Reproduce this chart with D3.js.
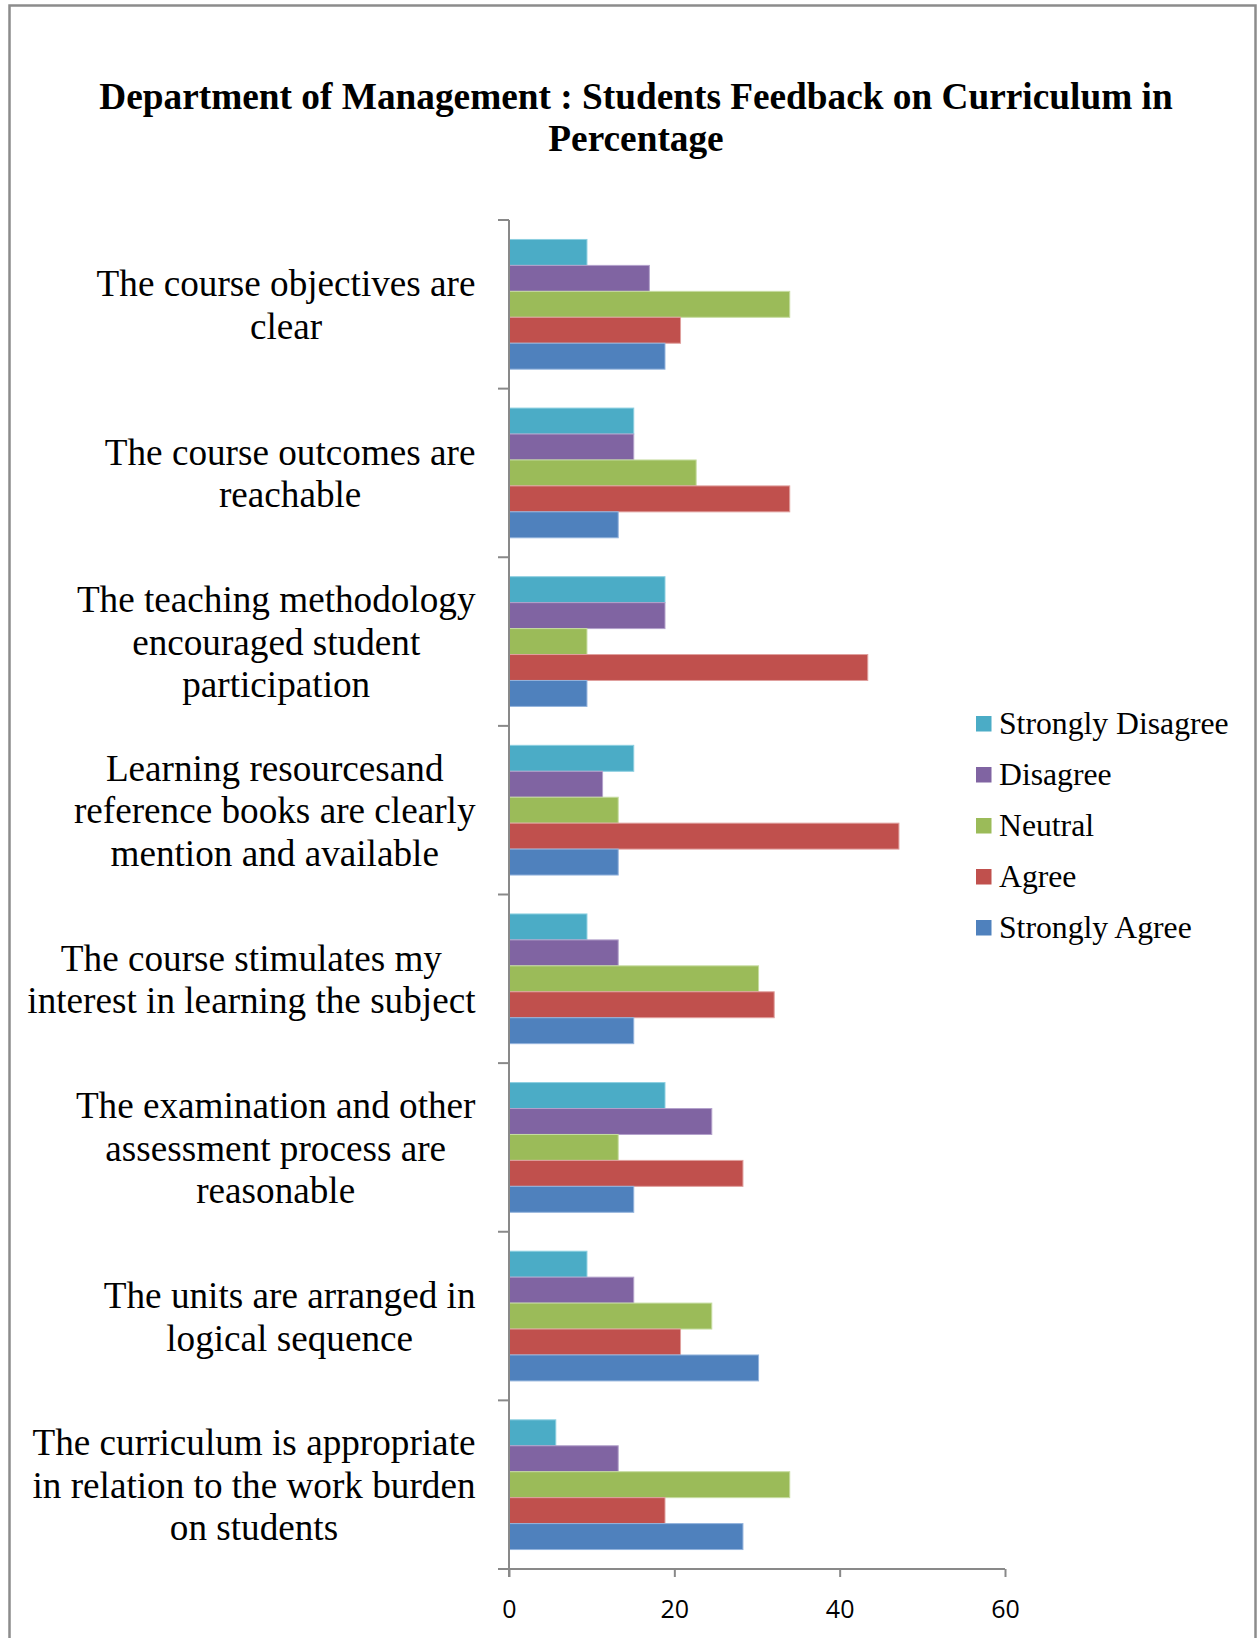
<!DOCTYPE html>
<html>
<head>
<meta charset="utf-8">
<script src="https://cdn.jsdelivr.net/npm/d3@7"></script>
<style>
  html, body { margin: 0; padding: 0; background: #fff; }
  svg { display: block; }
</style>
</head>
<body>
<svg id="chart" width="1257" height="1638"></svg>
<script>
// ---------------- data ----------------
const titleLines = ["Department of Management : Students Feedback on Curriculum in", "Percentage"];
const categories = [
  ["The course objectives are", "clear"],
  ["The course outcomes are", "reachable"],
  ["The teaching methodology", "encouraged student", "participation"],
  ["Learning resourcesand", "reference books are clearly", "mention and available"],
  ["The course stimulates my", "interest in learning the subject"],
  ["The examination and other", "assessment process are", "reasonable"],
  ["The units are arranged in", "logical sequence"],
  ["The curriculum is appropriate", "in relation to the work burden", "on students"]
];
const seriesNames = ["Strongly Disagree", "Disagree", "Neutral", "Agree", "Strongly Agree"];
const stronglyDisagree = [9.43, 15.09, 18.87, 15.09, 9.43, 18.87, 9.43, 5.66];
const disagree         = [16.98, 15.09, 18.87, 11.32, 13.21, 24.53, 15.09, 13.21];
const neutral          = [33.96, 22.64, 9.43, 13.21, 30.19, 13.21, 24.53, 33.96];
const agree            = [20.75, 33.96, 43.40, 47.17, 32.08, 28.30, 20.75, 18.87];
const stronglyAgree    = [18.87, 13.21, 9.43, 13.21, 15.09, 15.09, 30.19, 28.30];
const xTicks = [0, 20, 40, 60];

// ---------------- styles ----------------
const colors = ["#4BACC6", "#8064A2", "#9BBB59", "#C0504D", "#4F81BD"];
const strokes = ["#8ccfe0", "#b3a1cb", "#c6dca0", "#e0a09e", "#93b3dc"];
const serif = "'Liberation Serif', 'Times New Roman', serif";
const sans = "'Open Sans', 'Liberation Sans', sans-serif";
const axisColor = "#898989";

const seriesValues = [stronglyDisagree, disagree, neutral, agree, stronglyAgree];

const svg = d3.select("#chart");

// outer border
svg.append("rect")
  .attr("x", 9.5).attr("y", 5.5)
  .attr("width", 1246).attr("height", 1700)
  .attr("fill", "none").attr("stroke", "#8c8c8c").attr("stroke-width", 2.5);

// title
svg.append("g").selectAll("text").data(titleLines).join("text")
  .attr("x", 636)
  .attr("y", (d, i) => 96 + i * 42)
  .attr("dy", "0.34em")
  .attr("text-anchor", "middle")
  .attr("font-family", serif)
  .attr("font-weight", "bold")
  .attr("font-size", 37.3)
  .attr("fill", "#000")
  .text(d => d);

// scales
const plotTop = 220, plotBottom = 1569, plotLeft = 509, plotRight = 1005;
const x = d3.scaleLinear().domain([0, 60]).range([plotLeft, plotRight]);
const y = d3.scaleBand().domain(d3.range(categories.length)).range([plotTop, plotBottom]).padding(0);
const bw = y.bandwidth();
const yInner = d3.scaleBand().domain(d3.range(seriesNames.length))
  .range([bw * 0.75 / 6.5, bw * 5.75 / 6.5]).padding(0);

// bars
const groups = svg.append("g").selectAll("g").data(categories).join("g")
  .attr("transform", (d, i) => `translate(0,${y(i)})`);
groups.selectAll("rect")
  .data((d, i) => seriesValues.map((vals, s) => ({ s, v: vals[i] })))
  .join("rect")
  .attr("x", x(0))
  .attr("y", d => yInner(d.s))
  .attr("width", d => x(d.v) - x(0))
  .attr("height", yInner.bandwidth())
  .attr("fill", d => colors[d.s])
  .attr("stroke", d => strokes[d.s])
  .attr("stroke-width", 1);

// x axis
const xAxis = d3.axisBottom(x).tickValues(xTicks).tickSize(8).tickPadding(23).tickSizeOuter(0);
const gx = svg.append("g").attr("transform", `translate(0,${plotBottom})`).call(xAxis);
gx.select(".domain").attr("stroke", axisColor).attr("stroke-width", 2)
  .attr("d", `M${plotLeft - 11},0H${plotRight}`);
gx.selectAll(".tick line").attr("stroke", axisColor).attr("stroke-width", 2);
gx.selectAll(".tick text").attr("font-family", sans).attr("font-size", 25).attr("fill", "#000");

// y axis
const yTickPos = d3.range(categories.length + 1).map(i => plotTop + i * bw);
const gy = svg.append("g");
gy.append("line").attr("x1", plotLeft).attr("x2", plotLeft)
  .attr("y1", plotTop).attr("y2", plotBottom + 8)
  .attr("stroke", axisColor).attr("stroke-width", 2);
gy.selectAll("line.tk").data(yTickPos.slice(0, -1)).join("line").attr("class", "tk")
  .attr("x1", plotLeft - 11).attr("x2", plotLeft)
  .attr("y1", d => d).attr("y2", d => d)
  .attr("stroke", axisColor).attr("stroke-width", 2);

// category labels
const labelRight = 475.5, lineH = 42.5, labelFont = 37.2;
const labelG = svg.append("g");
categories.forEach((lines, i) => {
  const cy = y(i) + bw / 2 + 1;
  const g = labelG.append("g");
  const texts = g.selectAll("text").data(lines).join("text")
    .attr("font-family", serif)
    .attr("font-size", labelFont)
    .attr("fill", "#000")
    .attr("text-anchor", "middle")
    .attr("y", (d, k) => cy + (k - (lines.length - 1) / 2) * lineH)
    .attr("dy", "0.33em")
    .text(d => d);
  let maxW = 0;
  texts.each(function() { maxW = Math.max(maxW, this.getComputedTextLength()); });
  texts.attr("x", labelRight - maxW / 2);
});

// legend
const legend = svg.append("g").selectAll("g").data(seriesNames).join("g")
  .attr("transform", (d, i) => `translate(976,${724 + i * 51})`);
legend.append("rect")
  .attr("x", 0).attr("y", -8).attr("width", 15.5).attr("height", 15.5)
  .attr("fill", (d, i) => colors[i]);
legend.append("text")
  .attr("x", 23).attr("y", 0).attr("dy", "0.33em")
  .attr("font-family", serif).attr("font-size", 31.7).attr("fill", "#000")
  .text(d => d);
</script>
</body>
</html>
